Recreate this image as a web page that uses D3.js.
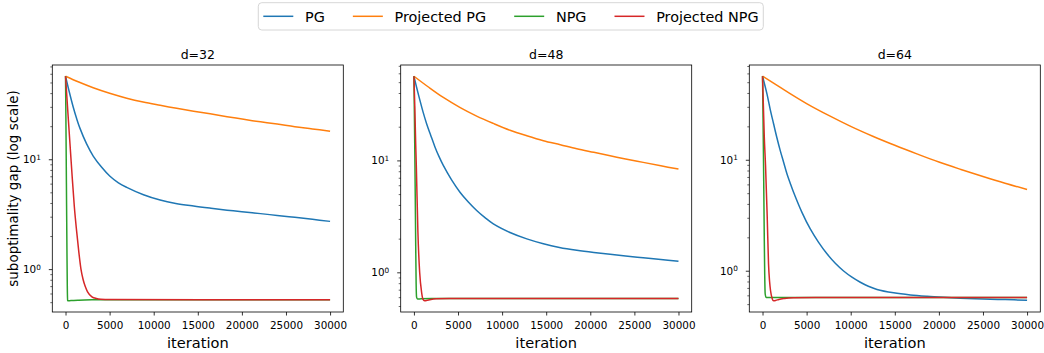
<!DOCTYPE html>
<html>
<head>
<meta charset="utf-8">
<script src="https://cdn.jsdelivr.net/npm/d3@7"></script>
<style>
  body { margin: 0; background: #fff; }
  text { font-family: "DejaVu Sans", sans-serif; fill: #000; }
</style>
</head>
<body>
<svg width="1044" height="353"></svg>
<script>
// values, [iteration, suboptimality gap]
var titles = ["d=32", "d=48", "d=64"];
var seriesNames = ["PG", "Projected PG", "NPG", "Projected NPG"];
var colors = ["#1f77b4", "#ff7f0e", "#2ca02c", "#d62728"];
var xTicks = [0, 5000, 10000, 15000, 20000, 25000, 30000];
var yMajor = [1, 10];
var yMajorExp = ["0", "1"];

// d=32
var pg32 = [[0, 57], [400, 41.8], [870, 29.9], [1250, 23.6], [1630, 19.2], [2390, 13.8], [3140, 10.7], [4100, 8.45], [5040, 7.0], [6000, 6.1], [6940, 5.55], [8840, 4.75], [10730, 4.25], [12500, 3.96], [14520, 3.75], [16500, 3.58], [18320, 3.44], [20000, 3.33], [22110, 3.2], [24000, 3.08], [26000, 2.96], [28000, 2.84], [30000, 2.72]];
var ppg32 = [[0, 57], [1500, 50.5], [3140, 44.8], [5000, 39.9], [6940, 36.0], [8800, 33.2], [10730, 31], [12600, 29.1], [14520, 27.4], [16400, 25.9], [18320, 24.4], [20200, 23.1], [22110, 21.9], [24000, 20.9], [26000, 19.8], [28000, 18.9], [30000, 18.0]];
var npg32 = [[0, 57], [40, 25], [80, 10], [120, 3.8], [160, 1.5], [200, 0.7], [240, 0.52], [300, 0.515], [600, 0.517], [1500, 0.521], [3000, 0.525], [5000, 0.527], [30000, 0.527]];
var pnpg32 = [[0, 57], [250, 28], [500, 14], [750, 7], [1000, 3.7], [1250, 2.25], [1500, 1.45], [1750, 1.0], [2000, 0.8], [2250, 0.69], [2500, 0.62], [3000, 0.56], [3500, 0.54], [4000, 0.532], [5000, 0.528], [30000, 0.527]];

// d=48
var pg48 = [[0, 56.5], [300, 45], [681, 34.4], [1040, 27], [1438, 21.3], [1900, 16.8], [2384, 13.2], [2850, 10.8], [3330, 9.02], [4270, 6.7], [5222, 5.2], [6170, 4.25], [7114, 3.57], [8060, 3.08], [9005, 2.71], [10896, 2.27], [12800, 1.99], [14680, 1.8], [16500, 1.67], [18470, 1.575], [20400, 1.505], [22250, 1.45], [24000, 1.4], [26000, 1.35], [28000, 1.3], [30000, 1.255]];
var ppg48 = [[0, 56.5], [1600, 45.5], [3330, 36.5], [5200, 29.8], [7114, 24.9], [9000, 21.4], [10896, 18.6], [12800, 16.6], [14680, 15.0], [16600, 13.8], [18470, 12.7], [20400, 11.8], [22250, 11.0], [24000, 10.3], [26000, 9.6], [28000, 8.95], [30000, 8.36]];
var npg48 = [[0, 56.5], [50, 27], [100, 12], [150, 4.8], [200, 1.8], [250, 0.8], [300, 0.6], [400, 0.578], [800, 0.58], [2000, 0.583], [30000, 0.584]];
var pnpg48 = [[0, 56.5], [100, 30], [200, 14], [270, 9], [450, 2.3], [650, 1.0], [874, 0.66], [1020, 0.577], [1210, 0.557], [1500, 0.562], [1800, 0.569], [2500, 0.58], [4000, 0.584], [30000, 0.584]];

// d=64
var pg64 = [[0, 56.6], [496, 39.4], [870, 28.5], [1253, 21.1], [1630, 15.8], [2010, 12.1], [2390, 9.5], [2767, 7.48], [3140, 6.15], [3520, 5.1], [4470, 3.36], [5414, 2.38], [6360, 1.8], [7306, 1.42], [8250, 1.167], [9196, 0.995], [10140, 0.875], [11090, 0.787], [12000, 0.724], [12980, 0.678], [14870, 0.632], [16760, 0.605], [18660, 0.588], [20500, 0.576], [22440, 0.566], [25000, 0.556], [27500, 0.549], [30000, 0.543]];
var ppg64 = [[0, 56.6], [2500, 42.4], [5000, 32.1], [7500, 25.1], [10000, 20], [12500, 16.3], [15000, 13.5], [17500, 11.3], [20000, 9.53], [22500, 8.18], [25000, 7.07], [27500, 6.15], [30000, 5.4]];
var npg64 = [[0, 56.6], [50, 27], [100, 12], [150, 4.8], [200, 1.9], [250, 0.9], [300, 0.62], [400, 0.575], [1000, 0.573], [30000, 0.574]];
var pnpg64 = [[0, 56.6], [100, 30], [200, 16], [340, 8.9], [530, 3.1], [681, 1.15], [800, 0.8], [910, 0.66], [1100, 0.56], [1250, 0.536], [1500, 0.54], [1850, 0.551], [2500, 0.562], [3500, 0.57], [6000, 0.574], [30000, 0.575]];

var panels = [
    { title: titles[0], series: [pg32, ppg32, npg32, pnpg32] },
    { title: titles[1], series: [pg48, ppg48, npg48, pnpg48] },
    { title: titles[2], series: [pg64, ppg64, npg64, pnpg64] }
];

var svg = d3.select("svg");

var panelLeft = [52.3, 400.7, 749.3],
    panelTop = 65,
    panelW = 291,
    panelH = 247;

function drawPanel(panel, i) {
    var g = svg.append("g")
        .attr("transform", "translate(" + panelLeft[i] + "," + panelTop + ")");

    // matplotlib style 5% margins (log space for y)
    var x = d3.scaleLinear().domain([-1500, 31500]).range([0, panelW]);
    var all = d3.merge(panel.series).map(function (d) { return d[1]; });
    var lo = Math.log10(d3.min(all)), hi = Math.log10(d3.max(all));
    var m = (hi - lo) * 0.05;
    var y = d3.scaleLog()
        .domain([Math.pow(10, lo - m), Math.pow(10, hi + m)])
        .range([panelH, 0]);

    g.append("clipPath").attr("id", "clip" + i)
        .append("rect").attr("width", panelW).attr("height", panelH);

    // smooth curves for the slow series, monotone for the sharp drops
    var smooth = d3.line()
        .x(function (d) { return x(d[0]); })
        .y(function (d) { return y(d[1]); })
        .curve(d3.curveCatmullRom.alpha(0.5));
    var sharp = d3.line()
        .x(function (d) { return x(d[0]); })
        .y(function (d) { return y(d[1]); })
        .curve(d3.curveMonotoneX);

    g.append("g").attr("clip-path", "url(#clip" + i + ")")
        .selectAll("path")
        .data(panel.series)
        .enter().append("path")
        .attr("d", function (d, k) { return k < 2 ? smooth(d) : sharp(d); })
        .attr("fill", "none")
        .attr("stroke", function (d, k) { return colors[k]; })
        .attr("stroke-width", 1.5)
        .attr("stroke-linejoin", "round");

    // x axis
    var xAxis = g.append("g")
        .attr("transform", "translate(0," + panelH + ")")
        .call(d3.axisBottom(x).tickValues(xTicks).tickSize(3.5).tickPadding(6.5)
            .tickFormat(function (d) { return d; }));
    xAxis.select(".domain").remove();
    xAxis.selectAll("text").attr("font-size", "10.4px").style("font-family", "DejaVu Sans");
    xAxis.selectAll("line").attr("stroke", "#000").attr("stroke-width", 0.8);

    // y minor ticks
    var dom = y.domain();
    var minor = [];
    [0.1, 1, 10].forEach(function (b) {
        for (var k = 2; k <= 9; k++) {
            var v = b * k;
            if (v >= dom[0] && v <= dom[1]) minor.push(v);
        }
    });
    var yMinor = g.append("g")
        .call(d3.axisLeft(y).tickValues(minor).tickSize(2).tickFormat(""));
    yMinor.select(".domain").remove();
    yMinor.selectAll("line").attr("stroke", "#000").attr("stroke-width", 0.6);

    // y major ticks with 10^n labels
    var yAxis = g.append("g")
        .call(d3.axisLeft(y).tickValues(yMajor).tickSize(3.5).tickPadding(8)
            .tickFormat(function () { return ""; }));
    yAxis.select(".domain").remove();
    yAxis.selectAll("line").attr("stroke", "#000").attr("stroke-width", 0.8);
    yAxis.selectAll("text")
        .attr("font-size", "10.4px")
        .style("font-family", "DejaVu Sans")
        .each(function (d, k) {
            var t = d3.select(this);
            t.append("tspan").text("10");
            t.append("tspan").attr("dy", "-0.45em").attr("font-size", "7.3px").text(yMajorExp[k]);
        });

    // spines
    g.append("rect")
        .attr("width", panelW).attr("height", panelH)
        .attr("fill", "none").attr("stroke", "#000").attr("stroke-width", 0.8);

    g.append("text")
        .attr("x", panelW / 2).attr("y", -5.6)
        .attr("text-anchor", "middle")
        .attr("font-size", "12.5px")
        .text(panel.title);

    g.append("text")
        .attr("x", panelW / 2).attr("y", panelH + 35.5)
        .attr("text-anchor", "middle")
        .attr("font-size", "14.6px")
        .text("iteration");

    if (i === 0) {
        g.append("text")
            .attr("transform", "translate(-39," + (panelH / 2) + ") rotate(-90)")
            .attr("text-anchor", "middle")
            .attr("dy", "0.35em")
            .attr("font-size", "13.5px")
            .text("suboptimality gap (log scale)");
    }
}

panels.forEach(drawPanel);

// legend
var legend = svg.append("g");
var frame = legend.append("rect")
    .attr("x", 258.3).attr("y", 2.7)
    .attr("height", 27.3)
    .attr("rx", 3.5)
    .attr("fill", "#fff").attr("fill-opacity", 0.8)
    .attr("stroke", "#cccccc").attr("stroke-width", 0.8);

var lx = 263.3, ly = 16.3;
seriesNames.forEach(function (name, k) {
    legend.append("line")
        .attr("x1", lx).attr("x2", lx + 30)
        .attr("y1", ly).attr("y2", ly)
        .attr("stroke", colors[k]).attr("stroke-width", 1.5);
    var t = legend.append("text")
        .attr("x", lx + 41.7).attr("y", ly + 5.2)
        .attr("font-size", "14.4px")
        .text(name);
    lx = lx + 41.7 + t.node().getComputedTextLength() + 28;
});
frame.attr("width", 763.3 - 258.3);
</script>
</body>
</html>
